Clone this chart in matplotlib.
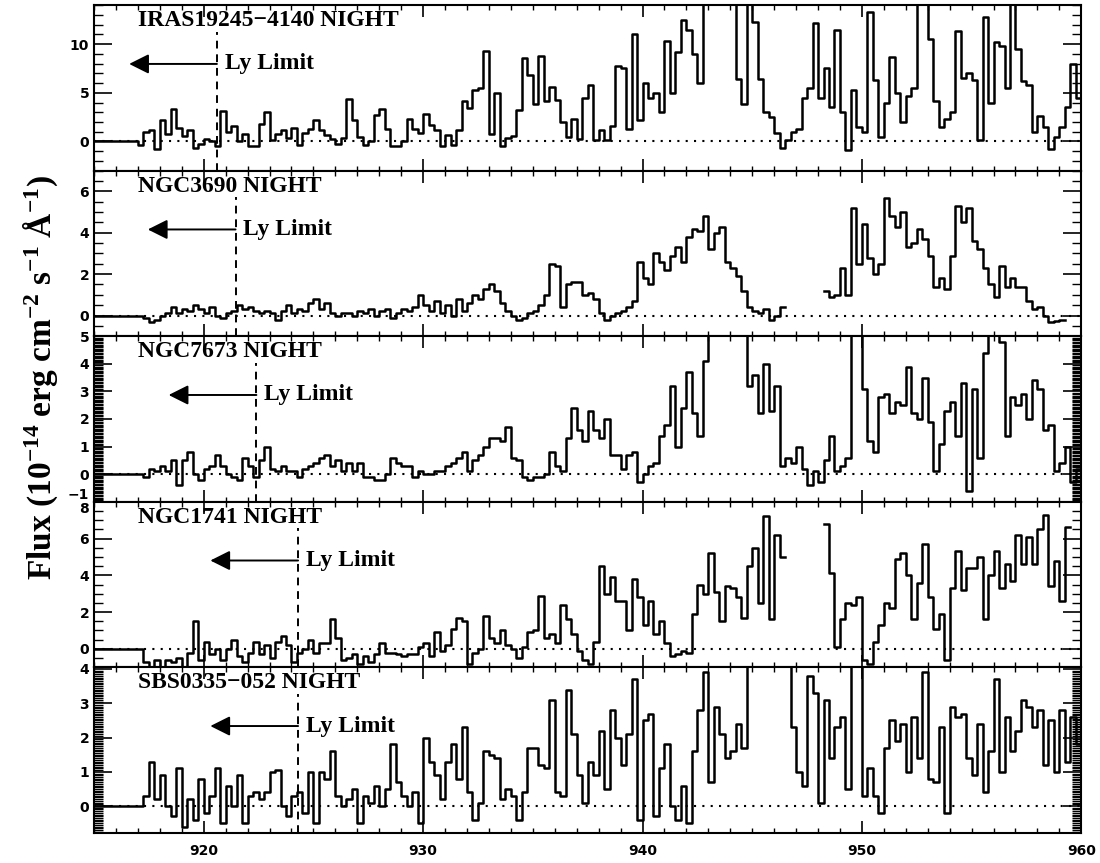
import numpy as np
import matplotlib
matplotlib.use('Agg')  # no display
import matplotlib.pyplot as plt
from matplotlib.ticker import MultipleLocator
import matplotlib.transforms as mtransforms

nan = np.nan

# wavelength grid: bins of 0.25 A starting at 915 A
wave_start = 915.0
bin_width = 0.25

# flux per bin, 1e-14 erg/cm2/s/A (values above the panel top are clipped)
iras_flux = [
    0, 0, 0, 0, 0, 0, 0, 0, -0.4, 1.0,
    1.2, -0.8, 2.2, 0.8, 3.3, 1.4, 0.6, 1.2, -0.7, -0.3,
    0.3, 0.1, -0.5, 3.1, 1.0, 1.6, 0.1, 0.8, -0.5, -0.5,
    1.8, 3.0, 0.2, 0.8, 1.2, 0.4, 1.4, -0.4, 0.9, 1.3,
    2.2, 1.2, 0.7, 0.3, -0.3, 0.4, 4.4, 2.2, 0.5, -0.4,
    0.0, 2.7, 3.3, 1.3, -0.5, -0.5, 0.0, 2.3, 1.3, 0.9,
    2.8, 1.7, 1.2, -0.5, 0.7, -0.4, 1.2, 4.2, 3.4, 5.3,
    5.5, 9.3, 0.8, 5.0, -0.5, 0.4, 0.6, 3.2, 8.6, 6.8,
    3.8, 8.8, 4.2, 5.6, 4.3, 2.0, 0.5, 2.3, 0.3, 4.5,
    5.8, 0.2, 1.2, 0.2, 1.6, 7.8, 7.5, 1.3, 11.0, 2.2,
    6.0, 4.5, 5.0, 3.0, 10.3, 5.0, 9.2, 12.5, 11.5, 9.0,
    6.0, 20, 20, 20, 20, 20, 20, 6.4, 3.8, 20,
    12.3, 6.4, 3.0, 2.5, 0.9, -0.7, 0.2, 1.0, 1.3, 4.5,
    5.5, 12.2, 4.5, 7.5, 3.5, 11.5, 3.0, -0.9, 5.3, 1.5,
    1.0, 13.3, 6.3, 0.5, 4.0, 8.7, 5.0, 2.0, 4.7, 5.5,
    20, 20, 10.5, 4.2, 1.5, 2.3, 3.0, 11.3, 6.5, 7.0,
    6.3, 0.2, 12.8, 4.0, 10.2, 9.8, 5.5, 20, 9.5, 6.2,
    5.8, 1.0, 2.6, 1.5, -0.8, 0.5, 1.5, 3.5, 8.0, 4.5,
]

ngc3690_flux = [
    0, 0, 0, 0, 0, 0, 0, 0, 0, -0.1,
    -0.3, -0.2, 0.0, 0.1, 0.4, 0.1, 0.3, 0.2, 0.5, 0.3,
    0.1, 0.4, 0.0, -0.1, 0.1, 0.2, 0.5, 0.3, 0.4, 0.2,
    0.1, 0.2, 0.1, -0.2, 0.2, 0.5, 0.1, 0.3, 0.2, 0.6,
    0.8, 0.3, 0.6, 0.1, 0.0, 0.1, 0.1, 0.0, 0.2, 0.1,
    0.3, 0.0, 0.2, 0.3, -0.1, 0.1, 0.3, 0.2, 0.4, 1.0,
    0.5, 0.2, 0.7, 0.1, 0.5, 0.0, 0.8, 0.2, 0.6, 1.0,
    0.8, 1.3, 1.5, 1.2, 0.6, 0.2, 0.0, -0.2, -0.1, 0.1,
    0.2, 0.5, 1.0, 2.5, 2.4, 0.4, 1.5, 1.6, 1.6, 1.0,
    1.1, 0.8, 0.1, -0.2, 0.0, 0.1, 0.2, 0.4, 0.7, 2.6,
    1.8, 1.5, 3.0, 2.6, 2.2, 2.9, 3.3, 2.6, 3.8, 4.2,
    4.1, 4.8, 3.2, 4.0, 4.3, 2.6, 2.3, 1.9, 1.2, 0.4,
    0.2, 0.1, 0.3, -0.2, 0.0, 0.4, nan, nan, nan, nan,
    nan, nan, nan, 1.2, 0.9, 1.0, 2.3, 1.0, 5.2, 2.5,
    4.4, 2.8, 2.0, 2.5, 5.7, 4.8, 4.3, 5.0, 3.3, 3.5,
    4.2, 3.7, 2.9, 1.4, 1.8, 1.3, 2.9, 5.3, 4.5, 5.2,
    3.6, 3.2, 2.3, 1.5, 0.9, 2.4, 1.4, 1.8, 1.4, 1.4,
    0.7, 0.3, 0.4, 0.0, -0.3, -0.25, -0.2, nan, nan, nan,
]

ngc7673_flux = [
    0, 0, 0, 0, 0, 0, 0, 0, 0, -0.1,
    0.2, 0.1, 0.3, 0.1, 0.5, -0.4, 0.5, 0.8, 0.0, -0.2,
    0.2, 0.3, 0.7, 0.3, 0.0, -0.1, -0.2, 0.6, 0.3, -0.1,
    0.5, 1.0, 0.2, 0.1, 0.3, 0.1, 0.1, -0.1, 0.2, 0.3,
    0.4, 0.6, 0.7, 0.3, 0.5, 0.1, 0.4, 0.1, 0.4, -0.1,
    -0.1, -0.2, -0.2, 0.0, 0.6, 0.4, 0.3, 0.3, -0.1, 0.1,
    0.0, 0.0, 0.1, 0.1, 0.3, 0.4, 0.6, 0.8, 0.1, 0.5,
    0.7, 1.0, 1.3, 1.3, 1.2, 1.7, 0.6, 0.5, -0.1, -0.2,
    -0.1, -0.1, 0.0, 0.8, 0.3, 0.1, 1.3, 2.4, 1.6, 1.2,
    2.3, 1.6, 1.3, 2.0, 0.7, 0.7, 0.2, 0.7, 0.8, -0.3,
    0.0, 0.3, 0.4, 1.4, 1.8, 3.2, 1.0, 2.4, 3.7, 2.2,
    1.4, 4.1, 8, 8, 8, 8, 8, 8, 8, 3.2,
    3.6, 2.2, 4.0, 2.3, 3.2, 0.3, 0.6, 0.4, 1.0, 0.2,
    -0.4, 0.1, -0.3, 0.5, 1.4, 0.1, 0.3, 0.6, 8, 8,
    3.1, 1.2, 0.8, 2.8, 2.9, 2.2, 2.6, 2.5, 3.9, 2.2,
    2.0, 3.5, 1.9, 0.1, 1.1, 2.3, 2.6, 1.4, 3.3, -0.6,
    3.1, 0.6, 4.4, 8, 8, 4.8, 1.4, 2.8, 2.5, 2.9,
    2.0, 3.4, 3.1, 1.6, 1.8, 0.1, 0.4, 1.0, -0.3, 0.2,
]

ngc1741_flux = [
    0, 0, 0, 0, 0, 0, 0, 0, 0, -0.7,
    -1.1, -0.6, -1.0, -0.6, -0.7, -0.5, -1.2, -0.2, 1.5, -0.6,
    0.4, -0.3, 0.0, -0.6, 0.0, 0.5, -0.4, -0.7, -0.2, 0.4,
    -0.3, 0.2, -0.5, 0.4, 0.7, 0.2, -0.7, -0.2, 0.0, 0.5,
    -0.2, 0.3, 0.3, 1.6, 0.6, -0.6, -0.5, -0.3, -0.8, -0.4,
    -0.7, -0.3, 0.3, -0.2, -0.2, -0.3, -0.4, -0.3, -0.3, 0.1,
    0.3, -0.4, 0.9, -0.1, 0.2, 1.1, 1.7, 1.5, -0.8, -0.2,
    0.0, 1.8, 0.6, 0.3, 1.0, 0.2, 0.0, -0.5, 0.1, 0.9,
    1.0, 2.9, 0.6, 0.8, 0.3, 2.4, 1.6, 0.8, -0.1, -0.6,
    -0.8, 0.4, 4.5, 3.0, 3.9, 2.6, 2.6, 1.0, 3.8, 2.8,
    1.3, 2.6, 0.8, 1.5, 0.3, -0.4, -0.3, -0.1, -0.2, 1.9,
    3.5, 3.0, 5.2, 3.1, 1.5, 3.4, 3.3, 2.8, 1.7, 4.5,
    5.5, 2.5, 7.2, 1.6, 6.2, 5.0, nan, nan, nan, nan,
    nan, nan, nan, 6.8, 4.1, 0.1, 1.6, 2.5, 2.4, 2.8,
    -0.6, -0.8, 0.4, 1.3, 2.5, 2.2, 4.9, 5.2, 4.0, 1.6,
    3.6, 5.7, 2.8, 1.1, 1.9, -0.6, 3.3, 5.3, 3.2, 4.4,
    4.4, 5.0, 1.6, 4.0, 5.3, 3.3, 4.6, 3.7, 6.2, 4.6,
    6.1, 4.6, 6.5, 7.3, 3.4, 4.8, 2.6, 6.6, nan, nan,
]

sbs0335_flux = [
    0, 0, 0, 0, 0, 0, 0, 0, 0, 0.3,
    1.3, 0.2, 0.9, 0.0, -0.3, 1.1, -0.6, 0.2, -0.4, 0.8,
    -0.2, 0.3, 1.1, -0.5, 0.6, 0.0, 0.9, -0.5, 0.3, 0.4,
    0.2, 0.4, 1.0, 1.05, 0.0, -0.3, 0.3, 0.4, -0.2, 1.0,
    -0.5, 1.0, 0.8, 1.6, 0.3, 0.0, 0.2, 0.5, -0.5, 0.3,
    0.1, 0.6, 0.0, 0.5, 1.8, 0.7, 0.3, 0.0, 0.4, -0.5,
    2.0, 1.3, 0.9, 0.2, 1.3, 1.8, 0.8, 2.3, 0.4, -0.4,
    0.1, 1.6, 1.5, 1.4, 0.2, 0.5, 0.3, -0.4, 0.4, 1.7,
    1.7, 1.2, 1.1, 3.1, 0.4, 0.3, 3.4, 2.1, 0.9, 0.1,
    1.3, 0.9, 2.2, 0.5, 2.8, 2.0, 1.2, 2.1, 3.7, -0.4,
    2.5, 2.7, -0.3, 1.1, 1.8, 0.0, -0.4, 0.6, -0.5, 1.6,
    2.8, 3.9, 0.7, 2.9, 2.1, 1.4, 1.6, 2.4, 1.7, 8,
    8, 8, 8, 8, 8, 8, 8, 2.3, 1.0, 0.6,
    3.8, 3.3, 0.1, 3.1, 1.4, 2.3, 2.6, 0.5, 8, 8,
    0.3, 1.1, 0.3, -0.2, 1.7, 2.5, 1.9, 2.4, 1.0, 2.6,
    1.4, 3.9, 0.8, 0.7, 2.3, -0.2, 2.9, 2.6, 2.7, 1.4,
    0.9, 2.4, 0.4, 1.6, 3.7, 1.0, 2.6, 1.6, 2.2, 3.1,
    2.9, 2.3, 2.8, 1.2, 2.5, 1.0, 2.8, 1.3, 2.6, 1.8,
]

spectra = [iras_flux, ngc3690_flux, ngc7673_flux, ngc1741_flux, sbs0335_flux]
panel_names = ['IRAS19245\u22124140 NIGHT', 'NGC3690 NIGHT', 'NGC7673 NIGHT',
               'NGC1741 NIGHT', 'SBS0335\u2212052 NIGHT']
# redshifted Lyman limit of each galaxy (A)
ly_limits = [920.6, 921.45, 922.4, 924.3, 924.3]

# axis settings per panel
y_ranges = [(-3, 14), (-1, 7), (-1, 5), (-1, 8), (-0.78, 4.05)]
y_major = [5, 2, 1, 2, 1]
y_minor = [1, 0.5, 0.05, 0.5, 0.05]
x_ticks = [920, 930, 940, 950, 960]

plt.rcParams['font.family'] = 'DejaVu Sans'
plt.rcParams['mathtext.fontset'] = 'custom'
plt.rcParams['mathtext.rm'] = 'Liberation Serif:bold'
plt.rcParams['mathtext.it'] = 'Liberation Serif:bold'
plt.rcParams['mathtext.bf'] = 'Liberation Serif:bold'

serif_bold = dict(family='Liberation Serif', weight='bold')

fig, axes = plt.subplots(5, 1, sharex=True, figsize=(11, 8.63), dpi=100)
fig.subplots_adjust(left=0.0855, right=0.983, top=0.994, bottom=0.035, hspace=0)

for i, ax in enumerate(axes):
    flux = np.array(spectra[i], dtype=float)
    edges = wave_start + bin_width * np.arange(len(flux) + 1)
    ax.step(edges, np.append(flux, flux[-1]), where='post', color='black', lw=1.8)

    # zero level
    ax.axhline(0, color='black', lw=1.5, ls=(0, (1, 3)))

    ax.set_xlim(915, 960)
    ax.set_ylim(*y_ranges[i])
    ax.yaxis.set_major_locator(MultipleLocator(y_major[i]))
    ax.yaxis.set_minor_locator(MultipleLocator(y_minor[i]))
    ax.set_xticks(x_ticks)
    ax.xaxis.set_minor_locator(MultipleLocator(1))

    ax.tick_params(axis='y', which='major', direction='in', length=13, width=1.2,
                   left=True, right=True, labelsize=10)
    ax.tick_params(axis='y', which='minor', direction='in', length=6.5, width=1.0,
                   left=True, right=True)
    ax.tick_params(axis='x', which='major', direction='in', length=8.5, width=1.2,
                   top=True, bottom=True, labelsize=10, pad=8)
    ax.tick_params(axis='x', which='minor', direction='in', length=3.5, width=1.0,
                   top=True, bottom=True)
    for sp in ax.spines.values():
        sp.set_linewidth(1.5)

    trans = mtransforms.blended_transform_factory(ax.transData, ax.transAxes)
    ly = ly_limits[i]
    ax.plot([ly, ly], [0, 0.84], transform=trans, color='black', lw=1.4,
            ls=(0, (4, 3)))
    ax.annotate('', xy=(ly - 4.0, 0.645), xytext=(ly, 0.645),
                xycoords=trans, textcoords=trans,
                arrowprops=dict(arrowstyle='-|>,head_length=0.6,head_width=0.3',
                                mutation_scale=20, lw=1.4, color='black',
                                shrinkA=0, shrinkB=0))
    ax.text(ly + 0.35, 0.645, 'Ly Limit', transform=trans, va='center', ha='left',
            fontsize=17, **serif_bold)
    ax.text(917.0, 0.905, panel_names[i], transform=trans, va='center', ha='left',
            fontsize=17, **serif_bold)

fig.text(0.037, 0.562, 'Flux (10$^{-14}$ erg cm$^{-2}$ s$^{-1}$ \u00c5$^{-1}$)',
         rotation=90, va='center', ha='center', fontsize=24, **serif_bold)

# bold tick labels; the "-1" of panel 3 and the "8" of panel 4 share a boundary
fig.canvas.draw()
for i, ax in enumerate(axes):
    lo, hi = y_ranges[i]
    for tick in ax.yaxis.get_major_ticks() + ax.xaxis.get_major_ticks():
        tick.label1.set_fontweight('bold')
    for tick, loc in zip(ax.yaxis.get_major_ticks(), ax.get_yticks()):
        if i == 2 and abs(loc - lo) < 1e-6:
            tick.label1.set_verticalalignment('bottom')
        if i == 3 and abs(loc - hi) < 1e-6:
            tick.label1.set_verticalalignment('top')

fig.savefig('out.png', dpi=100)
